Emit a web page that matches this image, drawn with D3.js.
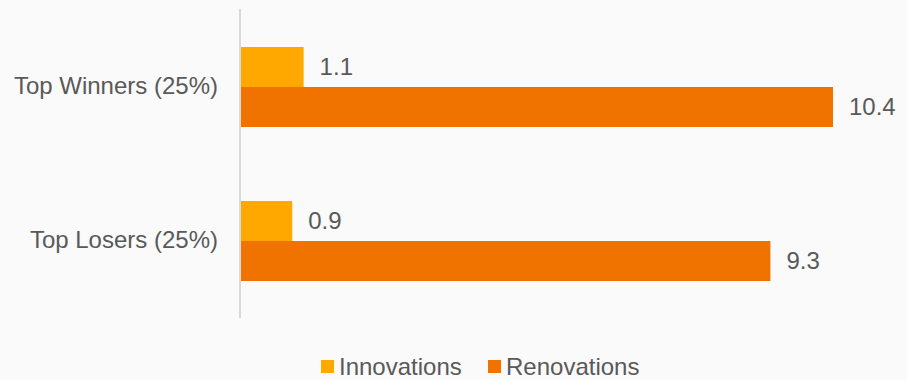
<!DOCTYPE html>
<html>
<head>
<meta charset="utf-8">
<script src="https://cdn.jsdelivr.net/npm/d3@7"></script>
<style>
  html, body { margin: 0; padding: 0; background: #fafafa; }
  svg { display: block; font-family: "Liberation Sans", Arial, sans-serif; }
</style>
</head>
<body>
<svg id="chart" width="907" height="380"></svg>
<script>
// Groups shown on the vertical axis, top to bottom
const categories = ["Top Winners (25%)", "Top Losers (25%)"];
// Series names and their values per group
const seriesNames = ["Innovations", "Renovations"];
const innovations = [1.1, 0.9];
const renovations = [10.4, 9.3];
const seriesColors = ["#ffa800", "#f07300"];

const rows = categories.map((c, i) => ({
  category: c,
  values: [
    { key: seriesNames[0], value: innovations[i] },
    { key: seriesNames[1], value: renovations[i] }
  ]
}));

const svg = d3.select("#chart");
const plot = { left: 240, top: 10, bottom: 318 };
const textColor = "#595959";
const fontSize = 24;

const x = d3.scaleLinear().domain([0, 10.4]).range([plot.left + 1, 833]);
const y0 = d3.scaleBand().domain(categories).range([plot.top, plot.bottom]).paddingInner(0).paddingOuter(0);
const groupH = 80;
const y1 = d3.scaleBand().domain(seriesNames).range([0, groupH]);
const color = d3.scaleOrdinal().domain(seriesNames).range(seriesColors);

// Bars
const groups = svg.append("g").selectAll("g")
  .data(rows).join("g")
  .attr("transform", d => `translate(0,${y0(d.category) + (y0.bandwidth() - groupH) / 2})`);

groups.selectAll("rect")
  .data(d => d.values).join("rect")
  .attr("x", x(0))
  .attr("y", d => y1(d.key))
  .attr("width", d => x(d.value) - x(0))
  .attr("height", y1.bandwidth())
  .attr("fill", d => color(d.key));

// Value labels at the end of each bar
groups.selectAll("text")
  .data(d => d.values).join("text")
  .attr("x", d => x(d.value) + 16)
  .attr("y", d => y1(d.key) + y1.bandwidth() / 2)
  .attr("dy", "0.35em")
  .attr("fill", textColor)
  .attr("font-size", fontSize)
  .text(d => d.value.toFixed(1));

// Category axis: a plain vertical line with labels, no ticks
const yAxis = d3.axisLeft(y0).tickSize(0).tickPadding(22);
const axisG = svg.append("g")
  .attr("transform", `translate(${plot.left},0)`)
  .call(yAxis);
axisG.select(".domain").attr("stroke", "#d9d9d9").attr("stroke-width", 2)
  .attr("d", `M0,${plot.top - 1}V${plot.bottom}`);
axisG.selectAll(".tick text")
  .attr("fill", textColor)
  .attr("font-size", fontSize)
  .attr("font-family", "Liberation Sans, Arial, sans-serif")
  .attr("dy", "0.3em");

// Legend
const legendItems = [
  { key: seriesNames[0], x: 321 },
  { key: seriesNames[1], x: 488 }
];
const legend = svg.append("g").selectAll("g")
  .data(legendItems).join("g")
  .attr("transform", d => `translate(${d.x},360)`);
legend.append("rect")
  .attr("width", 13).attr("height", 13)
  .attr("fill", d => color(d.key));
legend.append("text")
  .attr("x", 18).attr("y", 6.5).attr("dy", "0.36em")
  .attr("fill", textColor)
  .attr("font-size", fontSize)
  .text(d => d.key);
</script>
</body>
</html>
